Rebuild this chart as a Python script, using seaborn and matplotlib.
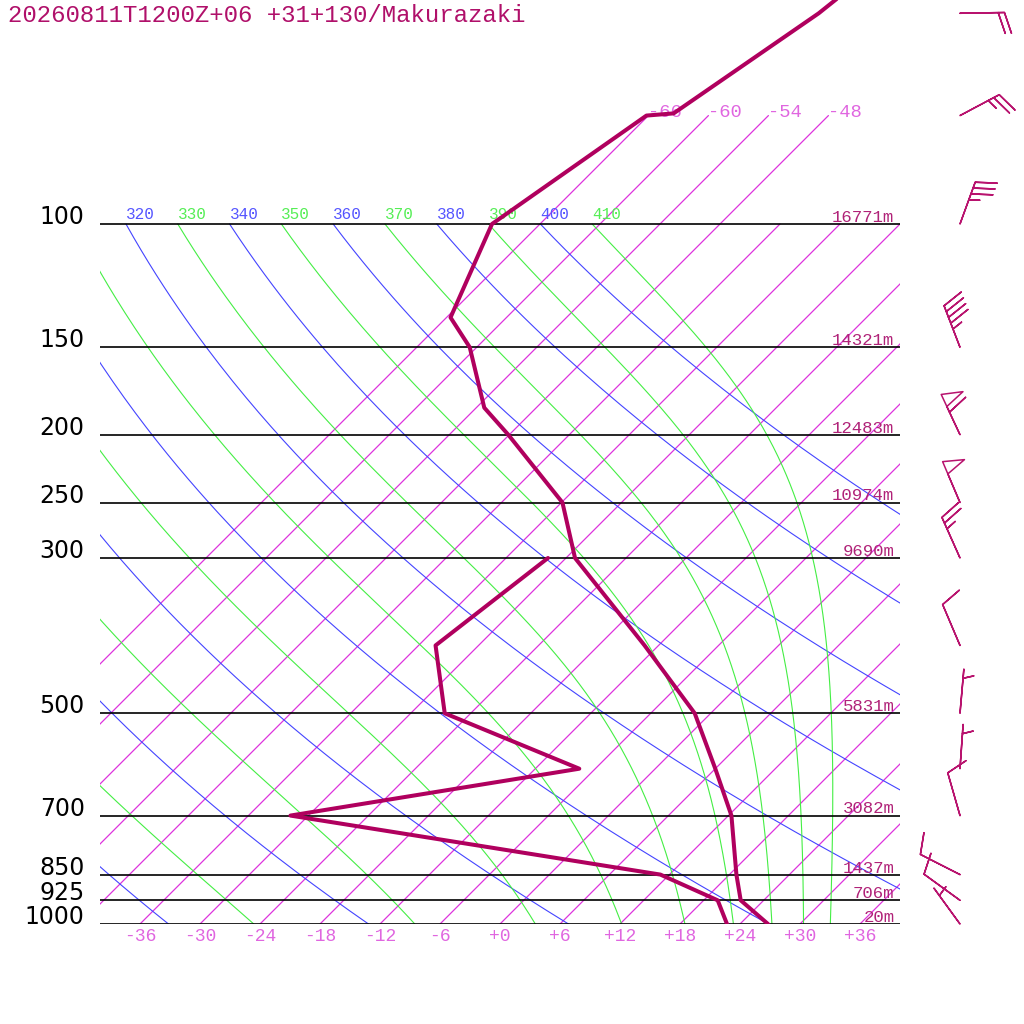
import numpy as np
import pandas as pd
import matplotlib
matplotlib.use("Agg")
import matplotlib.pyplot as plt
import seaborn as sns

# Sounding (hPa, degC)
temp_p = [1000, 925, 850, 700, 600, 500, 400, 300, 250, 200, 183, 150, 136, 100, 70, 69.5, 50, 30]
temp_t = [26.8, 21.7, 18.7, 12.3, 6.0, -1.6, -13.4, -29.1, -35.9, -48.1, -53.2, -60.7,
          -65.6, -70.8, -66.2, -63.7, -59.2, -55.3]
dew_p = [1000, 925, 850, 700, 600, 500, 400, 300]
dew_t = [22.7, 19.4, 11.1, -31.8, -7.6, -26.6, -34.3, -31.8]

# Standard levels and geopotential heights (m)
level_p = [1000, 925, 850, 700, 500, 300, 250, 200, 150, 100]
level_z = [20, 706, 1437, 3082, 5831, 9690, 10974, 12483, 14321, 16771]

# Winds (deg, kt)
wind_p = [1000, 925, 850, 700, 600, 500, 400, 300, 250, 200, 150, 100, 70, 50]
wind_dir = [324, 306, 297, 344, 4, 5, 337, 336, 337, 335, 339, 20, 62, 89]
wind_spd = [5, 10, 10, 10, 5, 5, 10, 25, 50, 60, 45, 35, 25, 20]

# Background lines
isotherms = list(range(-66, 37, 6))
upper_isotherms = [-66, -60, -54, -48]
dry_thetas = list(range(240, 401, 20))
moist_thetas = list(range(250, 411, 20))
tick_temps = list(range(-36, 37, 6))

title = "20260811T1200Z+06 +31+130/Makurazaki"

# Colours
c_snd = "#b0005e"
c_iso = "#dd33dd"
c_dry = "#4444ff"
c_moist = "#44ee44"
c_pink = "#e066e0"
c_hgt = "#b02278"

KAPPA = 0.2857
SKEW = 70.0  # degC of shift per decade of pressure
P_TOP = 1000 / 10 ** (924 / 700)


def skx(t, p):
    return np.asarray(t) + SKEW * np.log10(1000.0 / np.asarray(p))


def lapse(T, p):
    # pseudo-adiabatic dT/dp (K/hPa)
    tc = T - 273.15
    es = 6.112 * np.exp(17.67 * tc / (tc + 243.5))
    rs = 0.622 * es / (p - es)
    num = (287.04 * T + 2.501e6 * rs) / p
    den = 1005.7 + 2.501e6 ** 2 * rs * 0.622 / (287.04 * T ** 2)
    return num / den


def moist_line(theta, ps):
    T = theta * (ps[0] / 1000.0) ** KAPPA
    out = [T]
    for i in range(1, len(ps)):
        p0, p1 = ps[i - 1], ps[i]
        h = p1 - p0
        k1 = lapse(T, p0)
        k2 = lapse(T + h * k1 / 2, p0 + h / 2)
        k3 = lapse(T + h * k2 / 2, p0 + h / 2)
        k4 = lapse(T + h * k3, p1)
        T = T + h * (k1 + 2 * k2 + 2 * k3 + k4) / 6
        out.append(T)
    return np.array(out) - 273.15


sns.set_style("white")
plt.rcParams["font.family"] = ["DejaVu Sans"]
mono = "Liberation Mono"

fig = plt.figure(figsize=(10.24, 10.24), dpi=100)
ax = fig.add_axes([100 / 1024, 100 / 1024, 800 / 1024, 924 / 1024])
ax.set_yscale("log")
ax.set_ylim(1000, P_TOP)
ax.set_xlim(-40, 40)
ax.axis("off")

# isotherms
for t in isotherms:
    ptop = 70 if t in upper_isotherms else 100
    ps = np.array([1000, ptop])
    ax.plot(skx([t, t], ps), ps, color=c_iso, lw=0.9, zorder=1)
    if t in upper_isotherms:
        ax.annotate(str(t), xy=(skx(t, ptop), ptop), xytext=(0, -1), textcoords="offset points",
                    ha="left", va="baseline", fontsize=13.5, family=mono, color=c_pink,
                    annotation_clip=False)

# dry adiabats
ps = np.linspace(1000, 100, 200)
for th in dry_thetas:
    t = th * (ps / 1000) ** KAPPA - 273.15
    ax.plot(skx(t, ps), ps, color=c_dry, lw=0.8, zorder=1)
    ax.annotate(str(th), xy=(skx(t[-1], 100), 100), xytext=(0, 1.5), textcoords="offset points",
                ha="left", va="bottom", fontsize=11.5, family=mono, color="#5555ff",
                clip_on=True)

# moist adiabats
pm = np.linspace(100, 1000, 400)
for th in moist_thetas:
    t = moist_line(th, pm)
    ax.plot(skx(t, pm), pm, color=c_moist, lw=0.8, zorder=1)
    ax.annotate(str(th), xy=(skx(t[0], 100), 100), xytext=(0, 1.5), textcoords="offset points",
                ha="left", va="bottom", fontsize=11.5, family=mono, color="#55ee55",
                clip_on=True)

# standard levels
ax.hlines(level_p, -40, 40, color="black", lw=1.2, zorder=2)
for p, z in zip(level_p, level_z):
    ax.annotate(str(p), xy=(-40, p), xytext=(-11, 0), textcoords="offset points",
                ha="right", va="baseline", fontsize=17, color="black", annotation_clip=False)
    ax.annotate(f"{z}m", xy=(40, p), xytext=(-4, 1.5), textcoords="offset points",
                ha="right", va="baseline", fontsize=12.5, family=mono, color=c_hgt,
                annotation_clip=False)

# temperature ticks along 1000 hPa
for t in tick_temps:
    lab = f"{t:+d}" if t != 0 else "+0"
    ax.annotate(lab, xy=(t, 1000), xytext=(0, -9), textcoords="offset points",
                ha="center", va="center", fontsize=13, family=mono, color=c_pink,
                annotation_clip=False)

# sounding
snd_t = pd.DataFrame({"x": skx(temp_t, temp_p), "p": temp_p})
snd_d = pd.DataFrame({"x": skx(dew_t, dew_p), "p": dew_p})
sns.lineplot(data=snd_t, x="x", y="p", sort=False, estimator=None, color=c_snd, lw=2.9, ax=ax, zorder=5)
sns.lineplot(data=snd_d, x="x", y="p", sort=False, estimator=None, color=c_snd, lw=2.9, ax=ax, zorder=5)
ax.set_xlim(-40, 40)
ax.set_ylim(1000, P_TOP)
ax.axis("off")

# wind barbs
rad = np.deg2rad(wind_dir)
u = -np.array(wind_spd) * np.sin(rad)
v = -np.array(wind_spd) * np.cos(rad)
ax.barbs(np.full(len(wind_p), 46.0), wind_p, u, v, length=8, pivot="tip",
         barbcolor="#b8136e", flagcolor="none", linewidth=1.1,
         sizes=dict(spacing=0.14, height=0.47, width=0.3, emptybarb=0.0), clip_on=False, zorder=6)

fig.text(8 / 1024, 1 - 22 / 1024, title, ha="left", va="baseline", fontsize=17.3, family=mono,
         color="#b0106a")

fig.savefig("out.png", dpi=100)
